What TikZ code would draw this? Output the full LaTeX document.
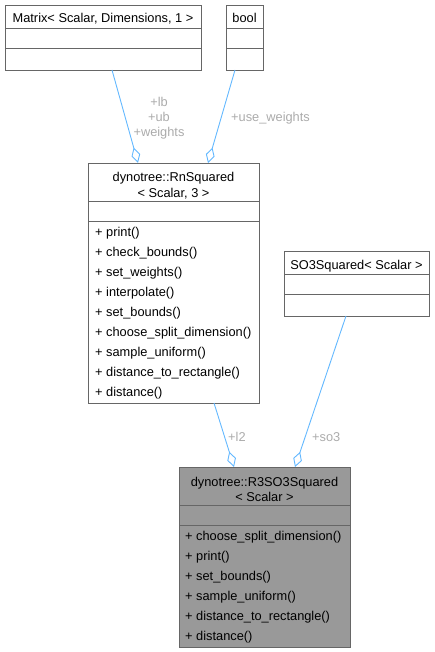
\documentclass[tikz,border=0pt]{standalone}
\usepackage{fontspec}
\setmainfont{Liberation Sans}
\usetikzlibrary{arrows.meta}
\definecolor{boxline}{HTML}{666666}
\definecolor{edgeblue}{HTML}{63B8FF}
\definecolor{lblgray}{HTML}{ABABAB}
\definecolor{darkfill}{HTML}{999999}
\begin{document}
\begin{tikzpicture}[x=1pt,y=-1pt,
  font=\fontsize{12.8}{15}\selectfont,
  umlbox/.style={draw=boxline, line width=0.9pt, fill=white, rectangle,
    inner sep=0pt, outer sep=0pt, anchor=north west},
  divider/.style={draw=boxline, line width=0.9pt},
  txt/.style={anchor=base, inner sep=0pt},
  row/.style={anchor=base west, inner sep=0pt},
  edge/.style={draw=edgeblue, line width=0.9pt,
    -{Diamond[open, length=16pt, width=9pt, fill=white]}},
  lbl/.style={text=lblgray, inner sep=0pt, anchor=base},
  lblw/.style={text=lblgray, inner sep=0pt, anchor=base west}]

\useasboundingbox (0,0) rectangle (435,652);

% ---------- Matrix ----------
\node[umlbox, minimum width=196pt, minimum height=65pt] (mat) at (5,5) {};
\draw[divider] (5,28) -- (201,28);
\draw[divider] (5,48) -- (201,48);
\node[txt] (matT) at (103,23) {Matrix< Scalar, Dimensions, 1 >};

% ---------- bool ----------
\node[umlbox, minimum width=37pt, minimum height=65pt] (bool) at (226,5) {};
\draw[divider] (226,28) -- (263,28);
\draw[divider] (226,48) -- (263,48);
\node[txt] (boolT) at (244.5,23) {bool};

% ---------- RnSquared ----------
\node[umlbox, minimum width=171pt, minimum height=240pt] (rn) at (88,163) {};
\draw[divider] (88,201) -- (259,201);
\draw[divider] (88,221) -- (259,221);
\node[txt] (rnT1) at (173.5,182) {dynotree::RnSquared};
\node[txt] (rnT2) at (173.5,197) {< Scalar, 3 >};
\node[row] (rn1) at (95,236) {+ print()};
\node[row] (rn2) at (95,256) {+ check\_bounds()};
\node[row] (rn3) at (95,276) {+ set\_weights()};
\node[row] (rn4) at (95,296) {+ interpolate()};
\node[row] (rn5) at (95,316) {+ set\_bounds()};
\node[row] (rn6) at (95,336) {+ choose\_split\_dimension()};
\node[row] (rn7) at (95,356) {+ sample\_uniform()};
\node[row] (rn8) at (95,376) {+ distance\_to\_rectangle()};
\node[row] (rn9) at (95,396) {+ distance()};

% ---------- SO3Squared ----------
\node[umlbox, minimum width=145pt, minimum height=65pt] (so3) at (284,251) {};
\draw[divider] (284,274) -- (429,274);
\draw[divider] (284,294) -- (429,294);
\node[txt] (so3T) at (356.5,269) {SO3Squared< Scalar >};

% ---------- R3SO3Squared ----------
\node[umlbox, fill=darkfill, minimum width=171pt, minimum height=180pt] (r3) at (179,467) {};
\draw[divider] (179,505) -- (350,505);
\draw[divider] (179,525) -- (350,525);
\node[txt] (r3T1) at (264.5,486) {dynotree::R3SO3Squared};
\node[txt] (r3T2) at (264.5,501) {< Scalar >};
\node[row] (r31) at (185,540) {+ choose\_split\_dimension()};
\node[row] (r32) at (185,560) {+ print()};
\node[row] (r33) at (185,580) {+ set\_bounds()};
\node[row] (r34) at (185,600) {+ sample\_uniform()};
\node[row] (r35) at (185,620) {+ distance\_to\_rectangle()};
\node[row] (r36) at (185,640) {+ distance()};

% ---------- connectors ----------
\coordinate (e1a) at (112,70);  \coordinate (e1b) at (138,163);
\coordinate (e2a) at (235,70);  \coordinate (e2b) at (208,163);
\coordinate (e3a) at (214,403); \coordinate (e3b) at (234,467);
\coordinate (e4a) at (346,316); \coordinate (e4b) at (295,467);
\draw[edge] (e1a) -- (e1b);
\draw[edge] (e2a) -- (e2b);
\draw[edge] (e3a) -- (e3b);
\draw[edge] (e4a) -- (e4b);

% ---------- labels ----------
\node[lbl] (l1a) at (159,107) {+lb};
\node[lbl] (l1b) at (159,122) {+ub};
\node[lbl] (l1c) at (159,137) {+weights};
\node[lblw] (l2) at (231,122) {+use\_weights};
\node[lblw] (l3) at (228,441) {+l2};
\node[lblw] (l4) at (312,441) {+so3};
\end{tikzpicture}
\end{document}
